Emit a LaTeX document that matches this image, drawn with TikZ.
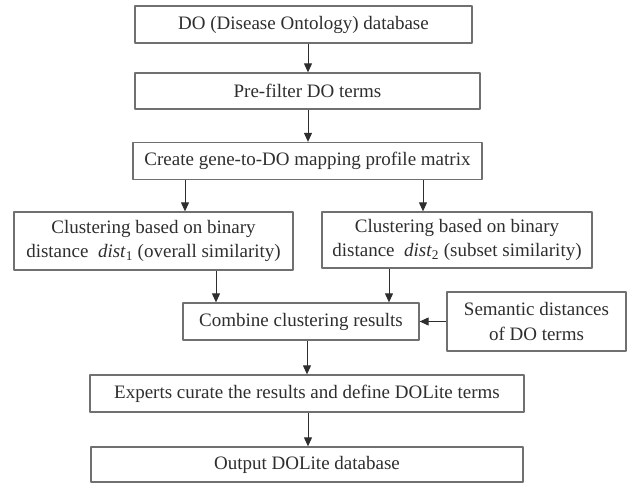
\documentclass[tikz,border=0pt]{standalone}
\usepackage{fontspec}
\setmainfont{Liberation Serif}
\usetikzlibrary{arrows.meta}
\definecolor{boxgray}{HTML}{707070}
\definecolor{txtgray}{HTML}{2E2E2E}
\begin{document}
\begin{tikzpicture}[x=1pt,y=-1pt,>={Triangle[length=9pt,width=8pt]},line join=round,
        font=\fontsize{19}{24.5}\selectfont,text=txtgray,
        box/.style={draw=boxgray,line width=1.3pt,inner sep=0pt,align=center},
        flow/.style={->,line width=1pt,draw=txtgray}]
    \useasboundingbox (0,0) rectangle (627,483);
    % main column
    \node[box,minimum width=337,minimum height=37] (db) at (303.5,24.5) {DO (Disease Ontology) database};
    \node[box,minimum width=345,minimum height=36] (prefilter) at (307.5,91) {Pre-filter DO terms};
    \node[box,minimum width=349,minimum height=37] (create) at (307.5,161) {Create gene-to-DO mapping profile matrix};
    % two clusterings
    \node[box,minimum width=279,minimum height=58] (clusterA) at (153.5,241)
        {Clustering based on binary\\distance \ \textit{dist}\textsubscript{1} (overall similarity)};
    \node[box,minimum width=270,minimum height=56] (clusterB) at (457,240)
        {Clustering based on binary\\distance \ \textit{dist}\textsubscript{2} (subset similarity)};
    \node[box,minimum width=236,minimum height=37] (combine) at (301,321.5) {Combine clustering results};
    \node[box,minimum width=179,minimum height=59] (semantic) at (536.5,321.5) {Semantic distances\\of DO terms};
    \node[box,minimum width=434,minimum height=37] (experts) at (307,393.5) {Experts curate the results and define DOLite terms};
    \node[box,minimum width=432,minimum height=35] (output) at (307,464.5) {Output DOLite database};
    % arrows
    \draw[flow] (db.south -| 308,0) -- (prefilter.north -| 308,0);
    \draw[flow] (prefilter.south -| 308,0) -- (create.north -| 308,0);
    \draw[flow] (create.south -| 185,0) -- (clusterA.north -| 185,0);
    \draw[flow] (create.south -| 423,0) -- (clusterB.north -| 423,0);
    \draw[flow] (clusterA.south -| 216,0) -- (combine.north -| 216,0);
    \draw[flow] (clusterB.south -| 389,0) -- (combine.north -| 389,0);
    \draw[flow] (semantic.west) -- (combine.east);
    \draw[flow] (combine.south -| 307,0) -- (experts.north -| 307,0);
    \draw[flow] (experts.south -| 308,0) -- (output.north -| 308,0);
\end{tikzpicture}
\end{document}
